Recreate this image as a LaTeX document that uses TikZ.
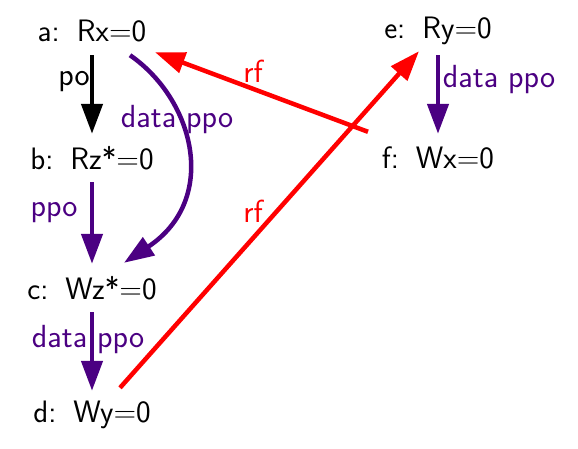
\documentclass[tikz,border=0pt]{standalone}
\usepackage{fontspec}
\usetikzlibrary{arrows.meta,calc}
\definecolor{ind}{HTML}{4B0082}
\newcommand{\gp}{\hspace{0.55em}}
\begin{document}
\begin{tikzpicture}[x=1pt,y=-1pt,
  ev/.style={font=\fontsize{31}{36}\selectfont\sffamily, inner sep=0pt, minimum height=48pt},
  lab/.style={font=\fontsize{32}{38}\selectfont\sffamily, inner sep=0pt},
  arr/.style={line width=4.5pt, -{Triangle[length=30pt,width=21pt]}},
  po/.style={arr, black},
  ppo/.style={arr, ind},
  rf/.style={arr, red}]
\useasboundingbox (0,0) rectangle (578,448);
\node[ev] (a) at (92,31) {a:\gp Rx=0};
\node[ev] (b) at (92,158) {b:\gp Rz*=0};
\node[ev] (c) at (92,288) {c:\gp Wz*=0};
\node[ev] (d) at (92,415) {d:\gp Wy=0};
\node[ev] (e) at (438,31) {e:\gp Ry=0};
\node[ev] (f) at (438,158) {f:\gp Wx=0};
\draw[po] (a.south) -- (b.north);
\draw[ppo] (b.south) -- (c.north);
\draw[ppo] (c.south) -- (d.north);
\draw[ppo] (e.south) -- (f.north);
\draw[ppo] ($(a.south)+(38,0)$) .. controls ($(a.south)+(103,45)$) and ($(c.north)+(127,-64)$) .. ($(c.north)+(32,-1)$);
\draw[rf] ($(f.north)+(-70,-2)$) -- ($(a.south)+(63,-3)$);
\draw[rf] ($(d.north)+(28,-3)$) -- ($(e.south)+(-19,-4)$);
\node[lab, black] (l1) at (74,82) {po};
\node[lab, ind] (l2) at (54,213) {ppo};
\node[lab, ind] (l3) at (88,340) {data ppo};
\node[lab, ind] (l4) at (177,120) {data ppo};
\node[lab, ind] (l5) at (499,80) {data ppo};
\node[lab, red] (l6) at (253,71) {rf};
\node[lab, red] (l7) at (253,211) {rf};
\end{tikzpicture}
\end{document}
